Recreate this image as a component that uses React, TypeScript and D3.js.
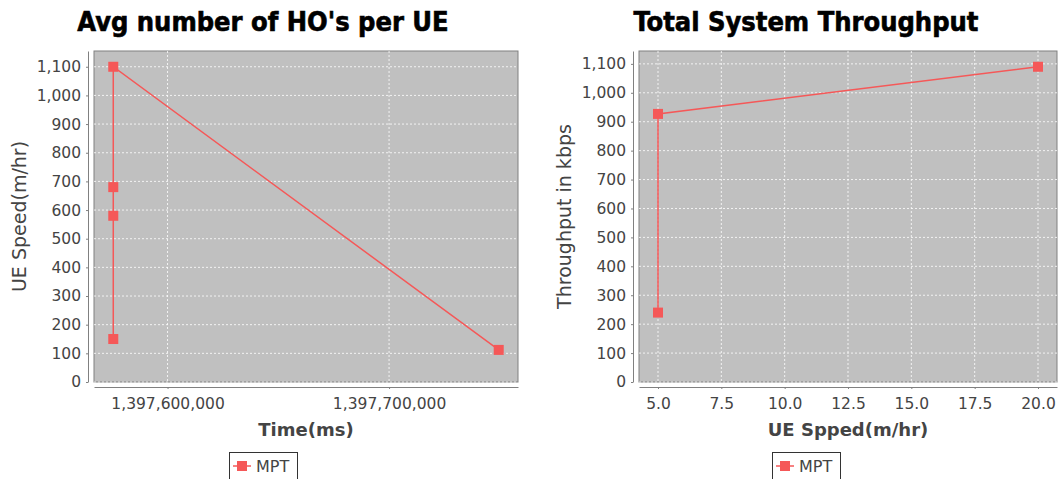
import React, { useEffect, useRef } from 'react';
import * as d3 from 'd3';

// left chart: avg HOs per UE
const hoTime = [1397575500, 1397575500, 1397575500, 1397575500, 1397749500];
const hoSpeed = [150, 580, 680, 1100, 112];
const hoXTicks = [1397600000, 1397700000];

// right chart: total system throughput
const tpSpeed = [5, 5, 20];
const tpThroughput = [240, 927, 1090];
const tpXTicks = [5, 7.5, 10, 12.5, 15, 17.5, 20];

const yTicks = [0, 100, 200, 300, 400, 500, 600, 700, 800, 900, 1000, 1100];
const seriesName = 'MPT';

const RED = '#f55858';
const FONT = '"DejaVu Sans", sans-serif';

function drawChart(svg, cfg) {
  const g = svg.append('g');
  const { left, right, top, bottom } = cfg.plot;

  const x = d3.scaleLinear().domain(cfg.xDomain).range([left, right]);
  const y = d3.scaleLinear().domain(cfg.yDomain).range([bottom, top]);

  // title
  g.append('text')
    .attr('x', cfg.center)
    .attr('y', 31)
    .attr('text-anchor', 'middle')
    .style('font-family', '"DejaVu Sans Condensed", "DejaVu Sans", sans-serif')
    .style('font-weight', 'bold')
    .style('font-size', '27px')
    .attr('fill', '#000')
    .attr('stroke', '#000')
    .attr('stroke-width', 0.6)
    .text(cfg.title);

  // plot background
  g.append('rect')
    .attr('x', left)
    .attr('y', top)
    .attr('width', right - left)
    .attr('height', bottom - top)
    .attr('fill', '#c0c0c0')
    .attr('stroke', '#808080')
    .attr('stroke-width', 1);

  // grid
  g.selectAll('.hgrid')
    .data(yTicks)
    .join('line')
    .attr('x1', left)
    .attr('x2', right)
    .attr('y1', d => y(d))
    .attr('y2', d => y(d))
    .attr('stroke', '#ffffff')
    .attr('stroke-width', 0.8)
    .attr('stroke-dasharray', '2,2');

  g.selectAll('.vgrid')
    .data(cfg.xTicks)
    .join('line')
    .attr('x1', d => x(d))
    .attr('x2', d => x(d))
    .attr('y1', top)
    .attr('y2', bottom)
    .attr('stroke', '#ffffff')
    .attr('stroke-width', 0.8)
    .attr('stroke-dasharray', '2,2');

  // y axis
  const yAxis = d3.axisLeft(y)
    .tickValues(yTicks)
    .tickFormat(d3.format(','))
    .tickSize(2)
    .tickSizeOuter(0)
    .tickPadding(5);

  const ya = g.append('g')
    .attr('transform', `translate(${left - 6}, 0)`)
    .call(yAxis);
  ya.select('.domain').attr('stroke', '#808080');
  ya.selectAll('.tick line').attr('stroke', '#808080');
  ya.selectAll('.tick text')
    .style('font-family', FONT)
    .style('font-size', '15.5px')
    .attr('fill', '#444');

  // x axis
  const xAxis = d3.axisBottom(x)
    .tickValues(cfg.xTicks)
    .tickFormat(cfg.xFormat)
    .tickSize(2)
    .tickSizeOuter(0)
    .tickPadding(9);

  const xa = g.append('g')
    .attr('transform', `translate(0, ${bottom + 5})`)
    .call(xAxis);
  xa.select('.domain').attr('stroke', '#808080');
  xa.selectAll('.tick line').attr('stroke', '#808080');
  xa.selectAll('.tick text')
    .style('font-family', FONT)
    .style('font-size', '15.5px')
    .attr('fill', '#444');

  // axis labels
  g.append('text')
    .attr('x', (left + right) / 2)
    .attr('y', 436)
    .attr('text-anchor', 'middle')
    .style('font-family', FONT)
    .style('font-weight', 'bold')
    .style('font-size', '18px')
    .attr('fill', '#444')
    .text(cfg.xLabel);

  g.append('text')
    .attr('transform', `translate(${cfg.yLabelX}, ${(top + bottom) / 2}) rotate(-90)`)
    .attr('text-anchor', 'middle')
    .style('font-family', FONT)
    .style('font-size', '19px')
    .attr('fill', '#444')
    .text(cfg.yLabel);

  // series
  const pts = cfg.xs.map((v, i) => [v, cfg.ys[i]]);
  const line = d3.line().x(d => x(d[0])).y(d => y(d[1]));

  g.append('path')
    .datum(pts)
    .attr('d', line)
    .attr('fill', 'none')
    .attr('stroke', RED)
    .attr('stroke-width', 1.5);

  g.selectAll('.pt')
    .data(pts)
    .join('rect')
    .attr('x', d => x(d[0]) - 5)
    .attr('y', d => y(d[1]) - 5)
    .attr('width', 10)
    .attr('height', 10)
    .attr('fill', RED);

  // legend
  const lg = g.append('g').attr('transform', `translate(${cfg.center - 34}, 452)`);
  lg.append('rect')
    .attr('x', 0.5)
    .attr('y', 0.5)
    .attr('width', 68)
    .attr('height', 30)
    .attr('fill', '#fff')
    .attr('stroke', '#333');
  lg.append('line')
    .attr('x1', 4)
    .attr('x2', 22)
    .attr('y1', 14)
    .attr('y2', 14)
    .attr('stroke', RED)
    .attr('stroke-width', 1.5);
  lg.append('rect')
    .attr('x', 8)
    .attr('y', 9)
    .attr('width', 10)
    .attr('height', 10)
    .attr('fill', RED);
  lg.append('text')
    .attr('x', 27)
    .attr('y', 20)
    .style('font-family', FONT)
    .style('font-size', '16px')
    .attr('fill', '#444')
    .text(seriesName);
}

export default function App() {
  const ref = useRef(null);

  useEffect(() => {
    const svg = d3.select(ref.current);
    svg.selectAll('*').remove();

    drawChart(svg, {
      title: "Avg number of HO's per UE",
      center: 263,
      plot: { left: 94, right: 518, top: 51, bottom: 382 },
      xDomain: [1397566800, 1397758200],
      yDomain: [0, 1155],
      xTicks: hoXTicks,
      xFormat: d3.format(','),
      xLabel: 'Time(ms)',
      yLabel: 'UE Speed(m/hr)',
      yLabelX: 26,
      xs: hoTime,
      ys: hoSpeed,
    });

    drawChart(svg, {
      title: 'Total System Throughput',
      center: 806,
      plot: { left: 639, right: 1057, top: 51, bottom: 382 },
      xDomain: [4.25, 20.75],
      yDomain: [0, 1144.5],
      xTicks: tpXTicks,
      xFormat: d3.format('.1f'),
      xLabel: 'UE Spped(m/hr)',
      yLabel: 'Throughput in kbps',
      yLabelX: 571,
      xs: tpSpeed,
      ys: tpThroughput,
    });
  }, []);

  return (
    <svg
      ref={ref}
      width={1058}
      height={479}
      style={{ position: 'absolute', left: 0, top: 0, background: '#fff' }}
    />
  );
}
